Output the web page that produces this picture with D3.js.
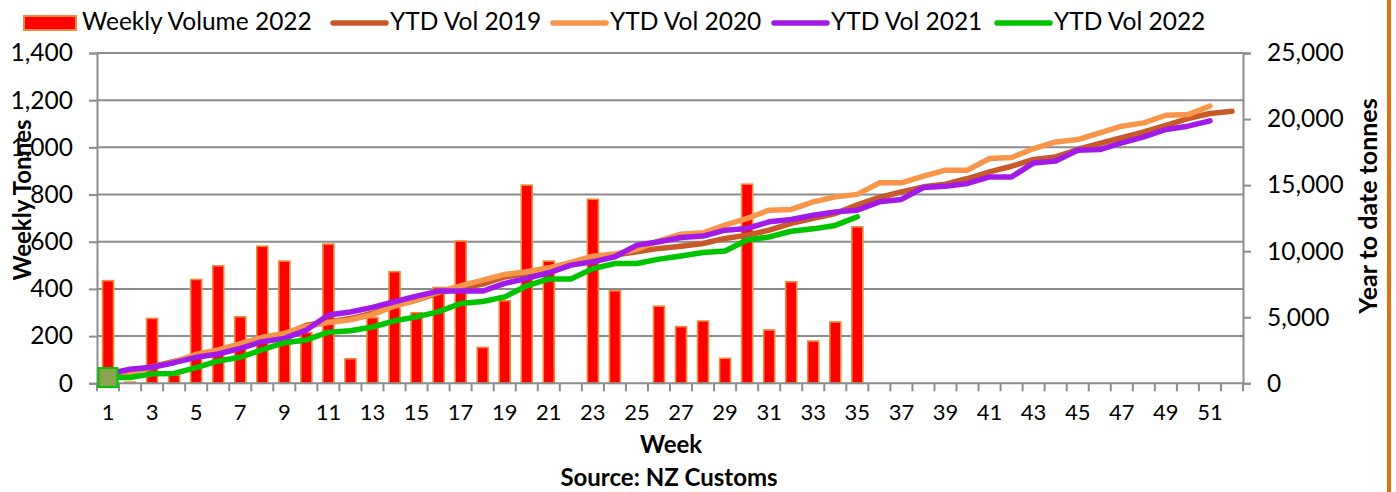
<!DOCTYPE html>
<html>
<head>
<meta charset="utf-8">
<script src="https://cdn.jsdelivr.net/npm/d3@7"></script>
<style>
  html, body { margin: 0; padding: 0; background: #fff; }
  svg { display: block; }
  text { font-family: Lato, "Open Sans", sans-serif; fill: #000; }
</style>
</head>
<body>
<script>
// ---- Data ----
const weeks = [1,2,3,4,5,6,7,8,9,10,11,12,13,14,15,16,17,18,19,20,21,22,23,24,25,26,
  27,28,29,30,31,32,33,34,35,36,37,38,39,40,41,42,43,44,45,46,47,48,49,50,51,52];
const weeklyVolume2022 = [435, 5, 275, 35, 440, 498, 282, 581, 518, 215, 590, 104, 278, 473, 299, 406,
  603, 152, 350, 840, 518, 0, 780, 392, 0, 327, 240, 264, 106, 844, 226, 430, 179, 260, 663];
const ytd2019 = [500, 900, 1250, 1650, 2050, 2400, 2850, 3300, 3700, 4400, 4650, 4900, 5300, 5900, 6300, 6850,
  7200, 7510, 8050, 8320, 8650, 9100, 9450, 9700, 9950, 10210, 10380, 10585, 10965, 11215, 11590, 12100,
  12480, 12855, 13500, 14065, 14490, 14870, 15070, 15500, 16000, 16430, 16940, 17135, 17695, 18150, 18600,
  19025, 19530, 20040, 20420, 20590];
const ytd2020 = [400, 800, 1200, 1600, 2200, 2520, 3000, 3480, 3780, 4300, 4600, 4800, 5200, 5850, 6300, 6930,
  7380, 7810, 8240, 8440, 8740, 9150, 9625, 9780, 10150, 10785, 11290, 11390, 11970, 12480, 13105, 13160,
  13735, 14110, 14300, 15170, 15170, 15675, 16130, 16130, 17015, 17090, 17770, 18270, 18450, 18950, 19460,
  19710, 20290, 20340, 20990];
const ytd2021 = [700, 1060, 1210, 1560, 1965, 2215, 2645, 3150, 3400, 4030, 5165, 5400, 5745, 6170, 6600, 6980,
  6980, 6980, 7560, 7940, 8365, 8945, 9195, 9575, 10460, 10710, 11040, 11140, 11590, 11720, 12220, 12400,
  12725, 12975, 13105, 13735, 13915, 14820, 14920, 15125, 15620, 15620, 16680, 16830, 17640, 17695, 18195,
  18650, 19210, 19460, 19860];
const ytd2022 = [435, 440, 715, 750, 1190, 1690, 1970, 2550, 3070, 3280, 3870, 3980, 4260, 4730, 5030, 5430,
  6040, 6190, 6540, 7380, 7900, 7900, 8680, 9070, 9070, 9400, 9640, 9900, 10010, 10850, 11080, 11510,
  11690, 11950, 12610];
const leftTicks = [0, 200, 400, 600, 800, 1000, 1200, 1400];
const rightTicks = [0, 5000, 10000, 15000, 20000, 25000];
const xTickLabels = weeks.filter(w => w % 2 === 1);

// ---- Layout ----
const W = 1396, H = 492;
const plot = { left: 97, right: 1243, top: 53, bottom: 383.3 };

const svg = d3.select("body").append("svg").attr("width", W).attr("height", H);

const x = d3.scaleBand().domain(weeks).range([plot.left, plot.right]).padding(0);
const yL = d3.scaleLinear().domain([0, 1400]).range([plot.bottom, plot.top]);
const yR = d3.scaleLinear().domain([0, 25000]).range([plot.bottom, plot.top]);

const gridColor = "#8c8c8c";

// gridlines
svg.append("g").selectAll("line").data(leftTicks.filter(d => d > 0)).join("line")
  .attr("x1", plot.left).attr("x2", plot.right)
  .attr("y1", d => yL(d)).attr("y2", d => yL(d))
  .attr("stroke", gridColor).attr("stroke-width", 2);

// left axis
const gLeft = svg.append("g").attr("transform", `translate(${plot.left},0)`)
  .call(d3.axisLeft(yL).tickValues(leftTicks).tickSize(8).tickPadding(16)
    .tickFormat(d3.format(",")));
gLeft.select(".domain").attr("stroke", gridColor).attr("stroke-width", 2);
gLeft.selectAll(".tick line").attr("stroke", gridColor).attr("stroke-width", 2);
gLeft.selectAll(".tick text").style("font-size", "24.5px").style("font-family", "Lato").attr("fill", "#000");

// right axis
const gRight = svg.append("g").attr("transform", `translate(${plot.right},0)`)
  .call(d3.axisRight(yR).tickValues(rightTicks).tickSize(8).tickPadding(16)
    .tickFormat(d3.format(",")));
gRight.select(".domain").attr("stroke", gridColor).attr("stroke-width", 2);
gRight.selectAll(".tick line").attr("stroke", gridColor).attr("stroke-width", 2);
gRight.selectAll(".tick text").style("font-size", "24.5px").style("font-family", "Lato").attr("fill", "#000");

// bars
const barW = x.bandwidth() * 0.5;
svg.append("g").selectAll("rect").data(weeklyVolume2022.map((v, i) => ({ w: weeks[i], v })))
  .join("rect")
  .attr("x", d => x(d.w) + (x.bandwidth() - barW) / 2)
  .attr("width", barW)
  .attr("y", d => yL(d.v))
  .attr("height", d => yL(0) - yL(d.v))
  .attr("fill", "#ff0000")
  .attr("stroke", d => d.v > 0 ? "#f08a3c" : "none")
  .attr("stroke-width", 1.6);

// x axis
const gX = svg.append("g").attr("transform", `translate(0,${plot.bottom})`);
gX.append("line").attr("x1", plot.left).attr("x2", plot.right).attr("y1", 0).attr("y2", 0)
  .attr("stroke", gridColor).attr("stroke-width", 2);
gX.selectAll("line.tk").data(weeks.concat([53])).join("line").attr("class", "tk")
  .attr("x1", d => d <= 52 ? x(d) : plot.right).attr("x2", d => d <= 52 ? x(d) : plot.right)
  .attr("y1", 0).attr("y2", 8).attr("stroke", gridColor).attr("stroke-width", 2);
gX.selectAll("text").data(xTickLabels).join("text")
  .attr("x", d => x(d) + x.bandwidth() / 2).attr("y", 31)
  .attr("text-anchor", "middle").attr("dominant-baseline", "middle")
  .style("font-size", "22px").text(d => d);

// lines
const series = [
  { name: "YTD Vol 2019", values: ytd2019, color: "#c85a28" },
  { name: "YTD Vol 2020", values: ytd2020, color: "#f7964a" },
  { name: "YTD Vol 2021", values: ytd2021, color: "#a21ae8" },
  { name: "YTD Vol 2022", values: ytd2022, color: "#00c400" }
];
const line = d3.line().x((d, i) => x(weeks[i]) + x.bandwidth() / 2).y(d => yR(d));
svg.append("g").selectAll("path").data(series).join("path")
  .attr("d", d => line(d.values))
  .attr("fill", "none").attr("stroke", d => d.color)
  .attr("stroke-width", 5.5).attr("stroke-linejoin", "round").attr("stroke-linecap", "round");

// marker at week 1 of 2022
svg.append("rect")
  .attr("x", x(weeks[0]) + x.bandwidth() / 2 - 9.5)
  .attr("y", yR(ytd2022[0]) - 9.5)
  .attr("width", 19).attr("height", 19)
  .attr("fill", "#8aa552").attr("stroke", "#00c400").attr("stroke-width", 2);

// axis titles
svg.append("text").attr("transform", "translate(25,200) rotate(-90)")
  .attr("text-anchor", "middle").attr("dominant-baseline", "middle")
  .style("font-size", "24px").style("font-weight", "bold").text("Weekly Tonnes");
svg.append("text").attr("transform", "translate(1371,206) rotate(-90)")
  .attr("text-anchor", "middle").attr("dominant-baseline", "middle")
  .style("font-size", "25px").style("font-weight", "bold").text("Year to date tonnes");
svg.append("text").attr("x", 671).attr("y", 447)
  .attr("text-anchor", "middle").attr("dominant-baseline", "middle")
  .style("font-size", "24px").style("font-weight", "bold").text("Week");
svg.append("text").attr("x", 669).attr("y", 480)
  .attr("text-anchor", "middle").attr("dominant-baseline", "middle")
  .style("font-size", "24px").style("font-weight", "bold").text("Source: NZ Customs");

// legend
const lg = svg.append("g");
lg.append("rect").attr("x", 24).attr("y", 16).attr("width", 52).attr("height", 14)
  .attr("fill", "#ff0000").attr("stroke", "#f08a3c").attr("stroke-width", 2);
lg.append("text").attr("x", 82).attr("y", 30).style("font-size", "24.5px").text("Weekly Volume 2022");
const legX = [333, 553, 774, 997];
series.forEach((s, i) => {
  lg.append("line").attr("x1", legX[i]).attr("x2", legX[i] + 53).attr("y1", 23).attr("y2", 23)
    .attr("stroke", s.color).attr("stroke-width", 5.5).attr("stroke-linecap", "round");
  lg.append("text").attr("x", legX[i] + 57).attr("y", 30).style("font-size", "24.5px").text(s.name);
});

// right border accent
svg.append("line").attr("x1", 1389).attr("x2", 1389).attr("y1", 0).attr("y2", H)
  .attr("stroke", "#e46c0a").attr("stroke-width", 4);
</script>
</body>
</html>
